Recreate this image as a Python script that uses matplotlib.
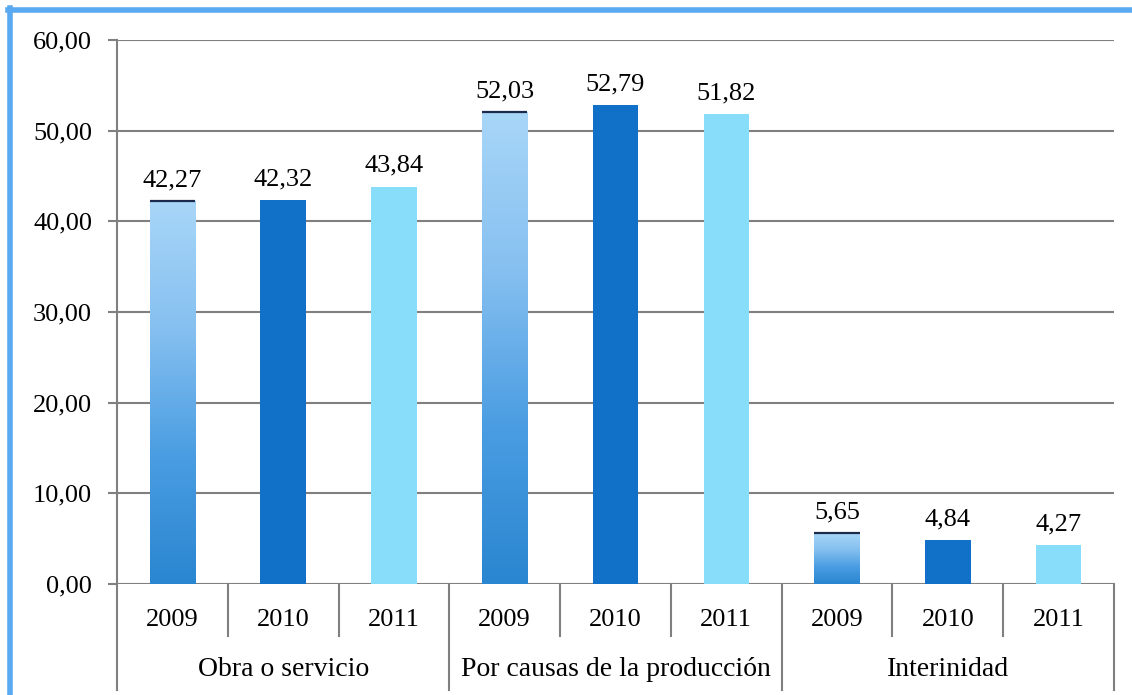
import matplotlib.pyplot as plt
import numpy as np
from matplotlib.colors import LinearSegmentedColormap
from matplotlib.lines import Line2D
import matplotlib.transforms as mtransforms

plt.rcParams['font.family'] = ['Liberation Serif', 'DejaVu Serif']

grupos = ["Obra o servicio", "Por causas de la producción", "Interinidad"]
anios = ["2009", "2010", "2011"]
obra = [42.27, 42.32, 43.84]
produccion = [52.03, 52.79, 51.82]
interinidad = [5.65, 4.84, 4.27]

valores = obra + produccion + interinidad
etiquetas = anios * len(grupos)
x = np.arange(len(valores))

col_2010 = "#1170C8"
col_2011 = "#88DDFB"
degradado = LinearSegmentedColormap.from_list(
    "deg2009", ["#2A86D0", "#4A9DE2", "#86C0F0", "#A8D6F8"])
gris = "#808080"

fig = plt.figure(figsize=(11.32, 6.95), dpi=100)
ax = fig.add_axes([117 / 1132, 1 - 584 / 695, (1114 - 117) / 1132, 544 / 695])

ancho = 0.41
for i, v in enumerate(valores):
    anio = etiquetas[i]
    if anio == "2009":
        barra = ax.bar(x[i], v, width=ancho, color="none", zorder=3)[0]
        grad = np.linspace(0, 1, 256).reshape(-1, 1)
        im = ax.imshow(grad, extent=[x[i] - ancho / 2, x[i] + ancho / 2, 0, v],
                       origin="lower", aspect="auto", cmap=degradado, zorder=3)
        im.set_clip_path(barra)
        ax.plot([x[i] - ancho / 2, x[i] + ancho / 2], [v, v],
                color="#1B2A4A", lw=1.6, zorder=4, solid_capstyle="butt")
    else:
        ax.bar(x[i], v, width=ancho, color=col_2010 if anio == "2010" else col_2011,
               zorder=3)
    ax.annotate(f"{v:.2f}".replace(".", ","), (x[i], v), xytext=(0, 7),
                textcoords="offset points", ha="center", va="bottom", fontsize=19)

ax.set_xlim(-0.5, len(valores) - 0.5)
ax.set_ylim(0, 60)
ax.set_yticks(np.arange(0, 61, 10))
ax.set_yticklabels([f"{t:.2f}".replace(".", ",") for t in np.arange(0, 61, 10)],
                   fontsize=19)
ax.yaxis.grid(True, color=gris, lw=1.5, zorder=0)
ax.tick_params(axis="y", length=6.5, width=1.5, color=gris, pad=11.5)
ax.set_xticks([])
for s in ["top", "right", "bottom"]:
    ax.spines[s].set_visible(False)
ax.spines["left"].set_color(gris)
ax.spines["left"].set_linewidth(1.5)

# ejes de categorías en dos niveles
trans = mtransforms.blended_transform_factory(ax.transData, ax.transAxes)
for i in range(len(valores) + 1):
    xb = i - 0.5
    fondo = -0.195 if i % 3 == 0 else -0.096
    ax.add_line(Line2D([xb, xb], [0, fondo], transform=trans, color=gris,
                       lw=1.5, clip_on=False))
for i, a in enumerate(etiquetas):
    ax.text(x[i], -0.066, a, transform=trans, ha="center", va="center",
            fontsize=19)
for g, nombre in enumerate(grupos):
    ax.text(3 * g + 1, -0.158, nombre, transform=trans, ha="center", va="center",
            fontsize=20)

# marco azul
azul = "#5AAAF2"
fig.add_artist(Line2D([8 / 1132, 1], [1 - 10 / 695] * 2, color=azul, lw=4))
fig.add_artist(Line2D([10 / 1132] * 2, [0, 1 - 8 / 695], color=azul, lw=4))

fig.savefig("out.png", dpi=100)
